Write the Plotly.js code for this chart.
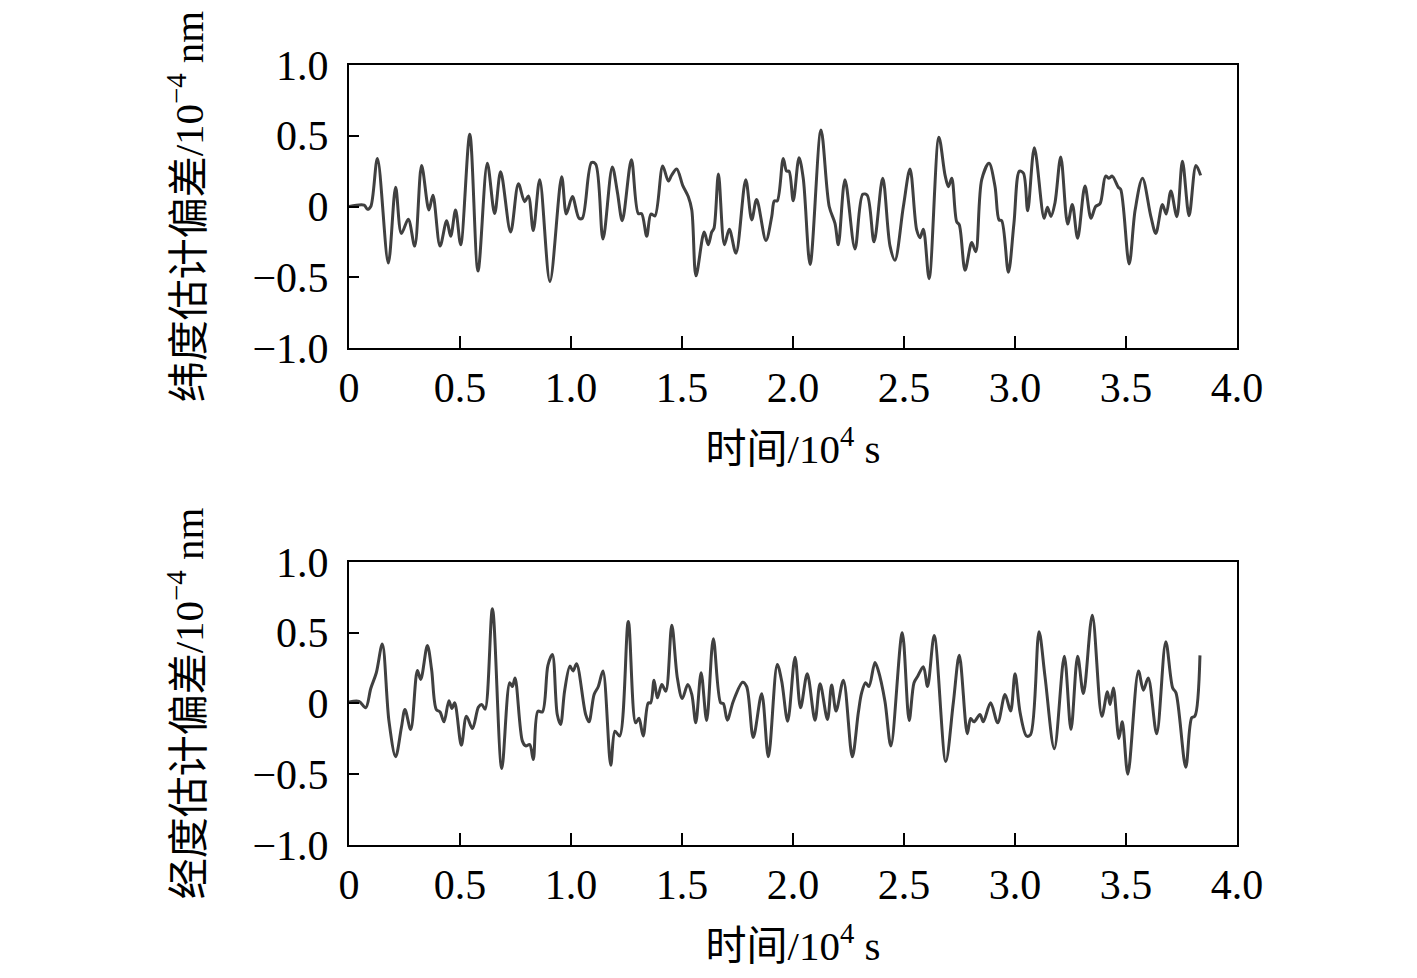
<!DOCTYPE html>
<html>
<head>
<meta charset="utf-8">
<script src="https://cdn.plot.ly/plotly-3.0.1.min.js"></script>
<style>
  html, body { margin: 0; padding: 0; background: #fff; }
  #chart { width: 1417px; height: 978px; }
</style>
</head>
<body>
<div id="chart"></div>
<script>
"use strict";

// time in 10^4 s, deviation in 10^-4 nm
const latTime = [0, 0.068, 0.083, 0.098, 0.128, 0.177, 0.210, 0.236, 0.267, 0.296, 0.327, 0.360, 0.378, 0.410, 0.440, 0.458, 0.480, 0.503, 0.544, 0.581, 0.623, 0.656, 0.683, 0.728, 0.763, 0.791, 0.808, 0.830, 0.859, 0.905, 0.958, 0.979, 1.006, 1.036, 1.051, 1.092, 1.111, 1.144, 1.186, 1.209, 1.231, 1.272, 1.303, 1.318, 1.341, 1.360, 1.378, 1.413, 1.438, 1.453, 1.476, 1.503, 1.528, 1.544, 1.563, 1.600, 1.618, 1.634, 1.644, 1.664, 1.691, 1.713, 1.743, 1.787, 1.814, 1.836, 1.878, 1.904, 1.916, 1.929, 1.956, 1.971, 1.982, 2.001, 2.027, 2.046, 2.077, 2.126, 2.163, 2.189, 2.204, 2.234, 2.279, 2.314, 2.334, 2.365, 2.404, 2.437, 2.459, 2.497, 2.527, 2.557, 2.572, 2.587, 2.613, 2.657, 2.685, 2.700, 2.715, 2.737, 2.749, 2.775, 2.805, 2.823, 2.850, 2.883, 2.910, 2.928, 2.940, 2.970, 2.995, 3.020, 3.038, 3.057, 3.087, 3.131, 3.146, 3.162, 3.180, 3.206, 3.237, 3.258, 3.282, 3.315, 3.342, 3.363, 3.383, 3.408, 3.423, 3.438, 3.465, 3.476, 3.514, 3.541, 3.574, 3.612, 3.634, 3.664, 3.681, 3.702, 3.729, 3.754, 3.784, 3.815, 3.836];
const latDev = [0, 0.01, -0.02, 0.0, 0.34, -0.40, 0.136, -0.19, -0.09, -0.28, 0.29, -0.025, 0.08, -0.28, -0.10, -0.21, -0.025, -0.27, 0.51, -0.456, 0.305, -0.05, 0.246, -0.18, 0.16, 0.034, 0.074, -0.17, 0.19, -0.53, 0.21, -0.053, 0.07, -0.083, -0.083, 0.31, 0.30, -0.23, 0.28, 0.10, -0.10, 0.33, -0.05, -0.05, -0.21, -0.053, -0.067, 0.286, 0.18, 0.22, 0.265, 0.15, 0.07, -0.025, -0.49, -0.18, -0.27, -0.18, -0.154, 0.23, -0.27, -0.16, -0.33, 0.19, -0.095, 0.05, -0.24, -0.072, 0.04, 0.04, 0.34, 0.25, 0.25, 0.04, 0.345, 0.20, -0.41, 0.54, 0, -0.12, -0.27, 0.19, -0.30, 0.086, 0.08, -0.25, 0.20, -0.28, -0.38, 0, 0.265, -0.166, -0.22, -0.16, -0.51, 0.49, 0.22, 0.14, 0.20, -0.107, -0.13, -0.45, -0.255, -0.32, 0.19, 0.305, 0.14, -0.095, -0.10, -0.465, -0.12, 0.25, 0.235, -0.03, 0.415, -0.083, -0.006, -0.07, 0.027, 0.35, -0.124, 0.015, -0.225, 0.145, -0.083, 0, 0.02, 0.215, 0.20, 0.215, 0.136, 0.12, -0.406, -0.025, 0.20, -0.072, -0.19, 0.015, -0.053, 0.11, -0.072, 0.32, -0.065, 0.29, 0.22];

const lonTime = [0, 0.045, 0.075, 0.098, 0.123, 0.150, 0.180, 0.210, 0.236, 0.252, 0.278, 0.308, 0.323, 0.353, 0.372, 0.393, 0.410, 0.428, 0.450, 0.463, 0.476, 0.506, 0.529, 0.556, 0.583, 0.598, 0.613, 0.646, 0.688, 0.724, 0.736, 0.748, 0.781, 0.796, 0.814, 0.830, 0.851, 0.871, 0.896, 0.916, 0.938, 0.953, 0.971, 0.995, 1.009, 1.025, 1.066, 1.081, 1.104, 1.123, 1.144, 1.179, 1.198, 1.219, 1.258, 1.291, 1.306, 1.325, 1.348, 1.359, 1.374, 1.389, 1.409, 1.427, 1.454, 1.479, 1.501, 1.526, 1.544, 1.562, 1.586, 1.611, 1.641, 1.674, 1.686, 1.704, 1.731, 1.773, 1.791, 1.821, 1.859, 1.889, 1.929, 1.949, 1.976, 2.009, 2.034, 2.064, 2.099, 2.122, 2.155, 2.174, 2.194, 2.227, 2.267, 2.294, 2.309, 2.327, 2.342, 2.369, 2.384, 2.414, 2.441, 2.492, 2.523, 2.545, 2.561, 2.587, 2.606, 2.636, 2.688, 2.722, 2.749, 2.785, 2.800, 2.815, 2.842, 2.857, 2.890, 2.922, 2.955, 2.980, 3.000, 3.023, 3.052, 3.070, 3.108, 3.135, 3.177, 3.222, 3.252, 3.282, 3.308, 3.348, 3.391, 3.416, 3.428, 3.443, 3.468, 3.483, 3.508, 3.556, 3.578, 3.600, 3.638, 3.679, 3.710, 3.725, 3.769, 3.796, 3.810, 3.833];
const lonDev = [0.01, 0.015, -0.03, 0.106, 0.217, 0.42, -0.125, -0.377, -0.17, -0.042, -0.184, 0.233, 0.17, 0.41, 0.24, -0.042, -0.06, -0.13, 0.02, -0.035, 0.005, -0.295, -0.09, -0.177, -0.026, -0.007, -0.04, 0.67, -0.46, 0.146, 0.12, 0.18, -0.266, -0.30, -0.29, -0.396, -0.054, -0.06, 0.27, 0.346, -0.078, -0.148, 0.087, 0.264, 0.23, 0.28, -0.078, -0.13, 0.064, 0.12, 0.23, -0.436, -0.196, -0.23, 0.58, -0.137, -0.105, -0.23, 0.005, 0.005, 0.165, 0.04, 0.134, 0.087, 0.553, 0.18, 0.035, 0.134, 0.064, -0.137, 0.217, -0.12, 0.457, 0.005, 0, -0.118, 0.016, 0.15, 0.12, -0.24, 0.068, -0.377, 0.276, 0.158, -0.125, 0.327, -0.03, 0.21, -0.118, 0.14, -0.113, 0.13, -0.054, 0.165, -0.377, -0.066, 0.075, 0.146, 0.12, 0.29, 0.233, 0.016, -0.30, 0.50, -0.12, 0.146, 0.19, 0.26, 0.12, 0.48, -0.41, 0.005, 0.34, -0.214, -0.106, -0.13, -0.078, -0.13, 0.005, -0.137, 0.064, -0.054, 0.21, -0.066, -0.23, -0.22, 0.507, 0.19, -0.32, 0.334, -0.184, 0.334, 0.07, 0.624, -0.09, 0.083, -0.007, 0.11, -0.247, -0.13, -0.50, 0.23, 0.094, 0.18, -0.214, 0.436, 0.11, 0.075, -0.45, -0.10, -0.09, 0.34];

const xTickVals = [0, 0.5, 1.0, 1.5, 2.0, 2.5, 3.0, 3.5, 4.0];
const xTickText = ["0", "0.5", "1.0", "1.5", "2.0", "2.5", "3.0", "3.5", "4.0"];
const yTickVals = [-1, -0.5, 0, 0.5, 1];
const yTickText = ["\u22121.0", "\u22120.5", "0", "0.5", "1.0"];

const xTitle = "时间/10<sup>4</sup> s";
const latTitle = "纬度估计偏差/10<sup>\u22124</sup> nm";
const lonTitle = "经度估计偏差/10<sup>\u22124</sup> nm";

const fontFamily = "'Liberation Serif', 'Times New Roman', 'Noto Sans CJK SC', serif";
const lineColor = "#404040";

function xAxis(anchor) {
  return {
    domain: [0.2463, 0.8730],
    anchor: anchor,
    range: [0, 4.0],
    tickvals: xTickVals,
    ticktext: xTickText,
    ticks: "inside",
    ticklen: 12,
    tickwidth: 2,
    tickcolor: "#000",
    showline: true,
    mirror: true,
    linecolor: "#000",
    linewidth: 2,
    showgrid: false,
    zeroline: false,
    ticklabelstandoff: 2,
    tickfont: {family: fontFamily, size: 42, color: "#000"},
    title: {text: xTitle, font: {family: fontFamily, size: 41, color: "#000"}, standoff: 24},
    automargin: false,
  };
}

function yAxis(anchor, domain, title) {
  return {
    domain: domain,
    anchor: anchor,
    range: [-1, 1],
    tickvals: yTickVals,
    ticktext: yTickText,
    ticks: "inside",
    ticklen: 10,
    tickwidth: 2,
    tickcolor: "#000",
    showline: true,
    mirror: true,
    linecolor: "#000",
    linewidth: 2,
    showgrid: false,
    zeroline: false,
    ticklabelstandoff: 10,
    tickfont: {family: fontFamily, size: 42, color: "#000"},
    title: {text: title, font: {family: fontFamily, size: 41, color: "#000"}, standoff: 36},
    automargin: false,
  };
}

const traces = [
  {
    x: latTime, y: latDev, xaxis: "x", yaxis: "y",
    type: "scatter", mode: "lines",
    line: {color: lineColor, width: 3, shape: "spline", smoothing: 0.9},
    hoverinfo: "skip",
  },
  {
    x: lonTime, y: lonDev, xaxis: "x2", yaxis: "y2",
    type: "scatter", mode: "lines",
    line: {color: lineColor, width: 3, shape: "spline", smoothing: 0.9},
    hoverinfo: "skip",
  },
];

const layout = {
  width: 1417,
  height: 978,
  margin: {l: 0, r: 0, t: 0, b: 0},
  paper_bgcolor: "#fff",
  plot_bgcolor: "#fff",
  showlegend: false,
  xaxis: xAxis("y"),
  yaxis: yAxis("x", [0.6442, 0.9335], latTitle),
  xaxis2: xAxis("y2"),
  yaxis2: yAxis("x2", [0.1360, 0.4254], lonTitle),
};

Plotly.newPlot("chart", traces, layout, {staticPlot: true});
</script>
</body>
</html>
